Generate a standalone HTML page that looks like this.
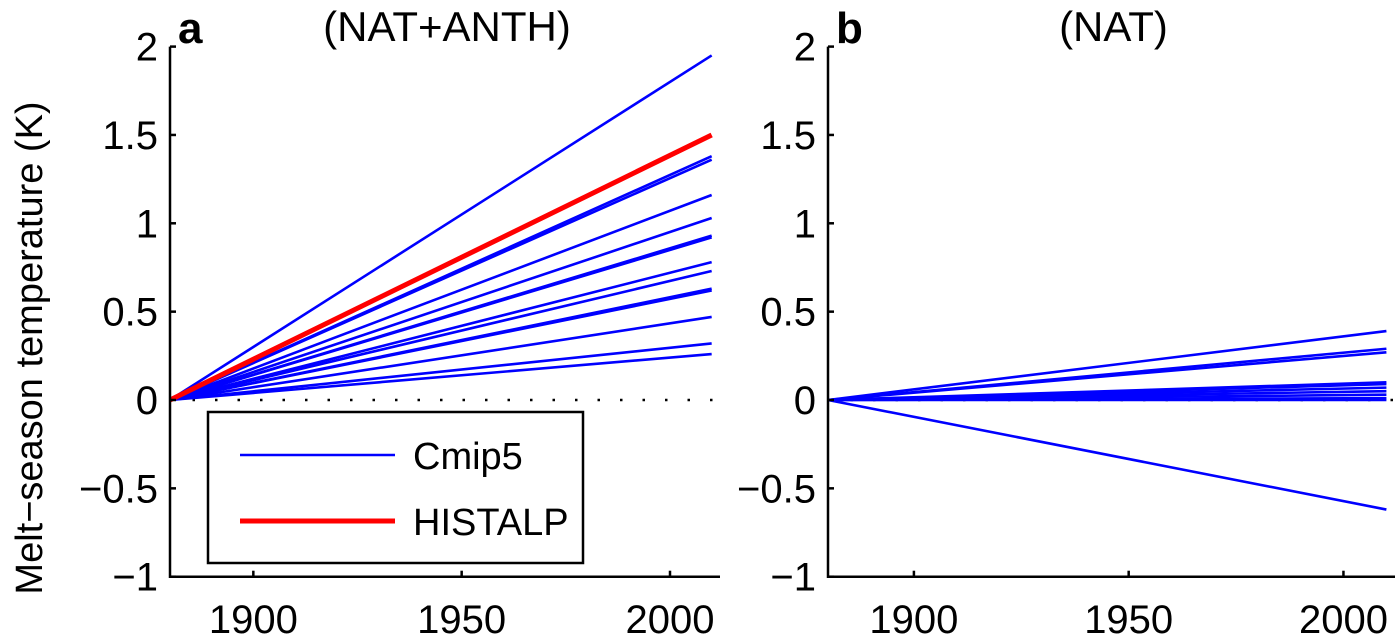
<!DOCTYPE html>
<html><head><meta charset="utf-8"><style>
body{margin:0;background:#fff;}
svg{display:block;font-family:"Liberation Sans",Arial,sans-serif;}
</style></head><body>
<svg id="chart" width="1400" height="638" viewBox="0 0 1400 638">
<text transform="translate(42,348) rotate(-90)" text-anchor="middle" font-size="38">Melt−season temperature (K)</text>
<g id="pa"></g><g id="pb"></g>
</svg>
<script>
const years = [1880, 2010];
const yTicks = [-1, -0.5, 0, 0.5, 1, 1.5, 2];
const yTickLabels = ['−1', '−0.5', '0', '0.5', '1', '1.5', '2'];
const xTicks = [1900, 1950, 2000];
const cmipA = [1.95, 1.38, 1.36, 1.16, 1.03, 0.93, 0.92, 0.78, 0.73, 0.63, 0.62, 0.47, 0.32, 0.26];
const histalp = [1.5];
const cmipB = [0.39, 0.29, 0.27, 0.10, 0.09, 0.07, 0.05, 0.03, 0.01, 0.0, -0.62];
const NS='http://www.w3.org/2000/svg';
function mk(g,tag,at,txt){const e=document.createElementNS(NS,tag);for(const k in at)e.setAttribute(k,at[k]);if(txt!==undefined)e.textContent=txt;g.appendChild(e);return e;}
function panel(gid,x0,x1,letter,title,blue,red){
  const g=document.getElementById(gid);
  const X=v=>x0+(v-1880)*(x1-x0)/132;
  const Y=v=>400-v*176.7;
  const bl=mk(g,'text',{x:x0+8,y:43,'font-size':44,'font-weight':'bold'},letter);
  
  
  const tt=mk(g,'text',{x:(x0+x1)/2+2,y:41,'font-size':42,'text-anchor':'middle'},title);
  
  
  const zl=mk(g,'line',{x1:x0,y1:Y(0),x2:x1,y2:Y(0),stroke:'#000','stroke-width':2.5,'stroke-dasharray':'2.5 20'});
  
  
  blue.forEach((v,i)=>{
    const l=mk(g,'line',{x1:X(years[0]),y1:Y(0),x2:X(years[1]),y2:Y(v),stroke:'#0000ff','stroke-width':2.6});
    
    
  });
  red.forEach(v=>{
    const l=mk(g,'line',{x1:X(years[0]),y1:Y(0),x2:X(years[1]),y2:Y(v),stroke:'#ff0000','stroke-width':5});
    
    
  });
  const ax=mk(g,'path',{d:`M${x0},${Y(2)}V${Y(-1)}H${x1}`,fill:'none',stroke:'#000','stroke-width':2.5});
  
  
  yTicks.forEach((v,i)=>{
    mk(g,'line',{x1:x0,y1:Y(v),x2:x0+6,y2:Y(v),stroke:'#000','stroke-width':2.5});
    const t=mk(g,'text',{x:x0-12,y:Y(v)+14,'font-size':40,'text-anchor':'end'},yTickLabels[i]);
    
    
  });
  xTicks.forEach(v=>{
    mk(g,'line',{x1:X(v),y1:Y(-1),x2:X(v),y2:Y(-1)-6,stroke:'#000','stroke-width':2.5});
    const t=mk(g,'text',{x:X(v),y:633,'font-size':40,'text-anchor':'middle'},String(v));
    
    
  });
}
panel('pa',170,720,'a','(NAT+ANTH)',cmipA,histalp);
panel('pb',828,1395,'b','(NAT)',cmipB,[]);
const g=document.getElementById('pa');
const lg=mk(g,'g',{});


mk(lg,'rect',{x:208,y:412,width:375,height:151,fill:'#fff',stroke:'#000','stroke-width':2.5});
mk(lg,'line',{x1:240,y1:455,x2:395,y2:455,stroke:'#0000ff','stroke-width':2.6});
const t1=mk(lg,'text',{x:413,y:469,'font-size':38},'Cmip5');


mk(lg,'line',{x1:240,y1:521,x2:395,y2:521,stroke:'#ff0000','stroke-width':5});
const t2=mk(lg,'text',{x:413,y:535,'font-size':38},'HISTALP');


</script>
</body></html>
